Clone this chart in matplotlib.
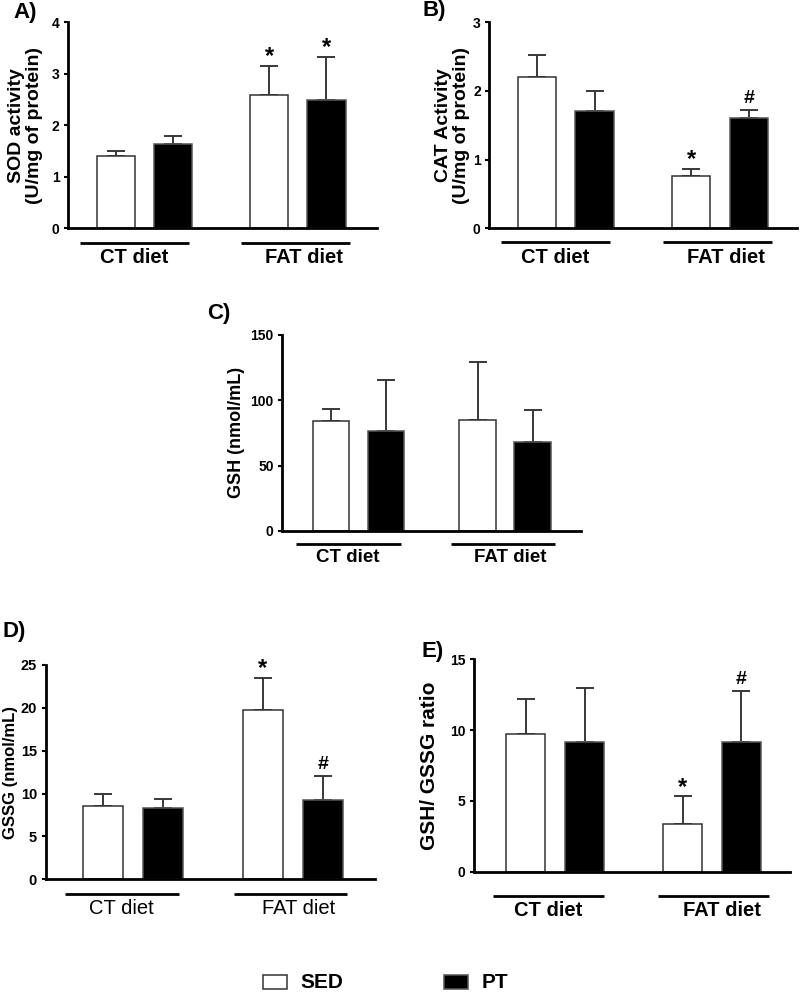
import numpy as np
import matplotlib.pyplot as plt
from matplotlib.patches import Rectangle

plt.rcParams['font.family'] = ['Liberation Sans', 'DejaVu Sans']

groups = ['CT diet', 'FAT diet']

# A) SOD
sod_sed = [1.40, 2.59]
sod_sed_err = [0.11, 0.57]
sod_pt = [1.64, 2.50]
sod_pt_err = [0.15, 0.83]
sod_sig_sed = ['', '*']
sod_sig_pt = ['', '*']

# B) CAT
cat_sed = [2.20, 0.76]
cat_sed_err = [0.33, 0.10]
cat_pt = [1.71, 1.60]
cat_pt_err = [0.29, 0.13]
cat_sig_sed = ['', '*']
cat_sig_pt = ['', '#']

# C) GSH
gsh_sed = [83.8, 84.6]
gsh_sed_err = [9.6, 44.3]
gsh_pt = [76.6, 68.2]
gsh_pt_err = [38.5, 24.5]
gsh_sig_sed = ['', '']
gsh_sig_pt = ['', '']

# D) GSSG
gssg_sed = [8.5, 19.8]
gssg_sed_err = [1.5, 3.7]
gssg_pt = [8.3, 9.3]
gssg_pt_err = [1.1, 2.8]
gssg_sig_sed = ['', '*']
gssg_sig_pt = ['', '#']

# E) GSH/GSSG
ratio_sed = [9.75, 3.39]
ratio_sed_err = [2.47, 1.93]
ratio_pt = [9.14, 9.16]
ratio_pt_err = [3.83, 3.60]
ratio_sig_sed = ['', '*']
ratio_sig_pt = ['', '#']

W, H = 800, 992
fig = plt.figure(figsize=(W / 100, H / 100), dpi=100)


def px_axes(left, top, right, bottom):
    ax = fig.add_axes([left / W, 1 - bottom / H, (right - left) / W, (bottom - top) / H])
    return ax, bottom - top


def draw_panel(ax, h_px, sed, sed_err, pt, pt_err, sig_sed, sig_pt, ymax, yticks,
               ylabel, ylabel_size, label_x, xlim, line_dy, text_dy,
               bold_groups=True, group_size=14.5, shift=0.0, tick_size=10):
    x_sed = np.array([1.25, 5.25])
    x_pt = x_sed + 1.5
    ax.bar(x_sed, sed, width=1, color='white', edgecolor='#333333', linewidth=1.1, zorder=2)
    ax.bar(x_pt, pt, width=1, color='black', edgecolor='#555555', linewidth=1.1, zorder=2)
    for x, v, e in ((x_sed, sed, sed_err), (x_pt, pt, pt_err)):
        ax.errorbar(x, v, yerr=[np.zeros(len(e)), e], fmt='none', ecolor='#383838',
                    elinewidth=1.4, capsize=6.8, capthick=1.4, zorder=1)

    for x, v, e, s in zip(np.r_[x_sed, x_pt], sed + pt, sed_err + pt_err, sig_sed + sig_pt):
        if s == '*':
            ax.annotate('*', (x, v + e), xytext=(0, 2), textcoords='offset points',
                        ha='center', va='baseline', fontsize=17, fontweight='bold')
        elif s == '#':
            ax.annotate('#', (x, v + e), xytext=(0, 5), textcoords='offset points',
                        ha='center', va='baseline', fontsize=14, fontweight='bold')

    ax.set_xlim(*xlim)
    ax.set_ylim(0, ymax)
    ax.set_yticks(yticks)
    ax.spines[['top', 'right']].set_visible(False)
    ax.spines[['left', 'bottom']].set_linewidth(2)
    ax.tick_params(axis='y', length=3.2, width=1.5, labelsize=tick_size, pad=3)
    ax.tick_params(axis='x', bottom=False, labelbottom=False)
    for t in ax.get_yticklabels():
        t.set_fontweight('bold')
    ax.set_ylabel(ylabel, fontsize=ylabel_size, fontweight='bold', linespacing=1.1)
    ax.yaxis.set_label_coords(label_x, 0.5)

    tr = ax.get_xaxis_transform()
    spans = [(0.31, 3.15), (4.52, 7.36)]
    text_x = [1.72, 6.15]
    for (x0, x1), xt, name in zip(spans, text_x, groups):
        ax.plot([x0 + shift, x1 + shift], [-line_dy / h_px] * 2, transform=tr, color='black',
                lw=2, clip_on=False, solid_capstyle='butt')
        ax.text(xt + shift, -text_dy / h_px, name, transform=tr, ha='center', va='center',
                fontsize=group_size, fontweight='bold' if bold_groups else 'normal')


ax, h = px_axes(68, 22.3, 377, 228.3)
draw_panel(ax, h, sod_sed, sod_sed_err, sod_pt, sod_pt_err, sod_sig_sed, sod_sig_pt,
           4, [0, 1, 2, 3, 4], 'SOD activity\n(U/mg of protein)', 14, -0.081,
           (0, 8.07), 14.4, 29)

ax, h = px_axes(489.3, 22.3, 797, 228.3)
draw_panel(ax, h, cat_sed, cat_sed_err, cat_pt, cat_pt_err, cat_sig_sed, cat_sig_pt,
           3, [0, 1, 2, 3], 'CAT Activity\n(U/mg of protein)', 14, -0.063,
           (0.015, 8.0), 14, 29)

ax, h = px_axes(282.3, 334.7, 581, 531)
draw_panel(ax, h, gsh_sed, gsh_sed_err, gsh_pt, gsh_pt_err, gsh_sig_sed, gsh_sig_pt,
           150, [0, 50, 100, 150], 'GSH (nmol/mL)', 13, -0.125,
           (-0.075, 8.07), 13.3, 26.5, group_size=13.5)

ax, h = px_axes(45.7, 665, 375, 879.3)
draw_panel(ax, h, gssg_sed, gssg_sed_err, gssg_pt, gssg_pt_err, gssg_sig_sed, gssg_sig_pt,
           25, [0, 5, 10, 15, 20, 25], 'GSSG (nmol/mL)', 12, -0.084,
           (-0.18, 8.05), 14.7, 29.5, bold_groups=False, tick_size=10.5)

ax, h = px_axes(474, 659.3, 790, 871.7)
draw_panel(ax, h, ratio_sed, ratio_sed_err, ratio_pt, ratio_pt_err, ratio_sig_sed, ratio_sig_pt,
           15, [0, 5, 10, 15], 'GSH/ GSSG ratio', 15, -0.111,
           (-0.07, 7.99), 24.3, 39, shift=0.1)

for lab, x, y in [('A)', 13, 12.5), ('B)', 422.7, 10.5), ('C)', 206.7, 314),
                  ('D)', 2, 632), ('E)', 421.7, 651.5)]:
    fig.text(x / W, 1 - y / H, lab, ha='left', va='center', fontsize=16, fontweight='bold')

# legend
for name, color, edge, x0, xt in [('SED', 'white', '#333333', 262.7, 300),
                                  ('PT', 'black', '#555555', 444.3, 481.7)]:
    fig.add_artist(Rectangle((x0 / W, 1 - 989 / H), 24 / W, 14 / H, transform=fig.transFigure,
                             facecolor=color, edgecolor=edge, linewidth=1.1))
    fig.text(xt / W, 1 - 982 / H, name, ha='left', va='center', fontsize=15, fontweight='bold')

fig.savefig('out.png', dpi=100)
